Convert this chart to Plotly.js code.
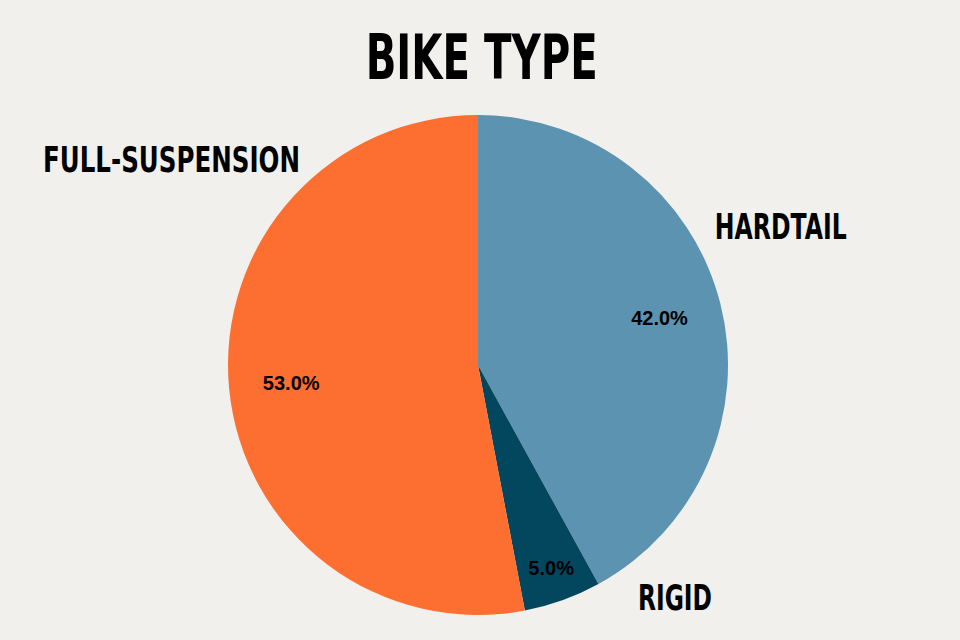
<!DOCTYPE html>
<html>
<head>
<meta charset="utf-8">
<script src="https://cdn.plot.ly/plotly-3.0.1.min.js"></script>
<style>
html,body{margin:0;padding:0;background:#f1f0ed;}
#chart{width:960px;height:640px;}
</style>
</head>
<body>
<div id="chart"></div>
<script>
const categories = ['HARDTAIL', 'RIGID', 'FULL-SUSPENSION'];
const shares = [42.0, 5.0, 53.0];
const sliceColors = ['#5B93B1', '#03475F', '#FD6F30'];
const chartTitle = 'BIKE TYPE';

const headFont = '"DejaVu Sans", sans-serif';

// label placement (centre, in pixels) and condensed drawn width
const labelPos = {
  'HARDTAIL': {x: 781, y: 226, w: 132},
  'RIGID': {x: 675, y: 597, w: 74},
  'FULL-SUSPENSION': {x: 171, y: 159, w: 257},
  'BIKE TYPE': {x: 481, y: 58, w: 232}
};

const annotations = categories.map(c => ({
  text: c, xref: 'paper', yref: 'paper',
  x: labelPos[c].x / 960, y: 1 - labelPos[c].y / 640, xanchor: 'center', yanchor: 'middle',
  showarrow: false,
  font: {family: headFont, size: 36, color: '#000', weight: 'bold'}
}));
annotations.push({
  text: chartTitle, xref: 'paper', yref: 'paper',
  x: labelPos[chartTitle].x / 960, y: 1 - labelPos[chartTitle].y / 640,
  xanchor: 'center', yanchor: 'middle', showarrow: false,
  font: {family: headFont, size: 62, color: '#000', weight: 'bold'}
});

const pieDomain = {x: [228/960, 728/960], y: [1 - 615/640, 1 - 115/640]};

Plotly.newPlot('chart', [{
  type: 'pie',
  labels: categories,
  values: shares,
  sort: false,
  direction: 'clockwise',
  rotation: 0,
  marker: {colors: sliceColors, line: {width: 0}},
  textinfo: 'none',
  domain: pieDomain,
  showlegend: false
}, {
  type: 'pie',
  labels: categories,
  values: shares,
  sort: false,
  direction: 'clockwise',
  rotation: 0,
  hole: 0.5,
  marker: {colors: ['rgba(0,0,0,0)', 'rgba(0,0,0,0)', 'rgba(0,0,0,0)'], line: {width: 0}},
  textinfo: 'percent',
  texttemplate: '%{percent:.1%}',
  textposition: 'inside',
  insidetextorientation: 'horizontal',
  textfont: {family: '"Liberation Sans", Arial, sans-serif', size: 20, color: '#000', weight: 'bold'},
  domain: pieDomain,
  showlegend: false
}], {
  width: 960, height: 640,
  margin: {l: 0, r: 0, t: 0, b: 0},
  paper_bgcolor: '#f1f0ed',
  plot_bgcolor: '#f1f0ed',
  annotations: annotations,
  showlegend: false
}, {displayModeBar: false, staticPlot: true}).then(gd => {
  gd.querySelectorAll('text.annotation-text').forEach(t => {
    const p = labelPos[t.textContent];
    if (p) {
      t.setAttribute('textLength', p.w);
      t.setAttribute('lengthAdjust', 'spacingAndGlyphs');
    }
  });
});
</script>
</body>
</html>
